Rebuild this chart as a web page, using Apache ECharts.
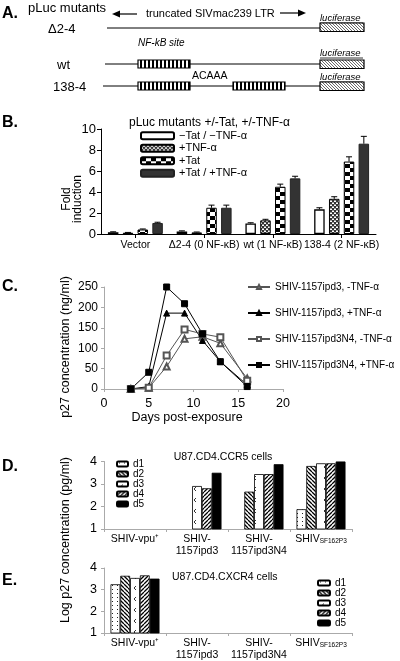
<!DOCTYPE html>
<html>
<head>
<meta charset="utf-8">
<script src="https://cdn.jsdelivr.net/npm/echarts@6/dist/echarts.min.js"></script>
<style>html,body{margin:0;padding:0;background:#fff}#c{width:400px;height:661px}</style>
</head>
<body>
<div id="c"></div>
<script>
// ---------- DATA ----------
// Panel B
const bCategories = ['Vector', 'Δ2-4 (0 NF-κB)', 'wt (1 NF-κB)', '138-4 (2 NF-κB)'];
const bNames = ['−Tat / −TNF-α', '+TNF-α', '+Tat', '+Tat / +TNF-α'];
const bNone = [0.17, 0.25, 1.0, 2.35];
const bTnf = [0.12, 0.15, 1.3, 3.35];
const bTat = [0.43, 2.5, 4.5, 6.9];
const bTatTnf = [1.05, 2.5, 5.3, 8.6];
const bNoneErr = [0.04, 0.05, 0.07, 0.15];
const bTnfErr = [0.03, 0.04, 0.1, 0.2];
const bTatErr = [0.05, 0.25, 0.25, 0.45];
const bTatTnfErr = [0.07, 0.25, 0.2, 0.7];
const bYTicks = [0, 2, 4, 6, 8, 10];
// Panel C
const cDays = [3, 5, 7, 9, 11, 13, 16];
const cNames = ['SHIV-1157ipd3, -TNF-α', 'SHIV-1157ipd3, +TNF-α', 'SHIV-1157ipd3N4, -TNF-α', 'SHIV-1157ipd3N4, +TNF-α'];
const cIpd3Minus = [0, 3, 55, 123, 128, 112, 26];
const cIpd3Plus = [0, 6, 186, 186, 119, 67, 10];
const cN4Minus = [0, 3, 82, 146, 135, 127, 20];
const cN4Plus = [0, 41, 250, 209, 135, 67, 6];
const cXTicks = [0, 5, 10, 15, 20];
const cYTicks = [0, 50, 100, 150, 200, 250];
// Panels D & E
const deCategories = ['SHIV-vpu⁺', 'SHIV-\n1157ipd3', 'SHIV-\n1157ipd3N4', 'SHIV_SF162P3'];
const dayNames = ['d1', 'd2', 'd3', 'd4', 'd5'];
const dD1 = [null, null, null, 1.88];
const dD2 = [null, null, 2.66, 3.8];
const dD3 = [null, 2.91, 3.44, 3.92];
const dD4 = [null, 2.81, 3.44, 3.92];
const dD5 = [null, 3.5, 3.88, 4.0];
const eD1 = [3.25, null, null, null];
const eD2 = [3.64, null, null, null];
const eD3 = [3.54, null, null, null];
const eD4 = [3.66, null, null, null];
const eD5 = [3.51, null, null, null];
const logTicks = [1, 2, 3, 4];

// ---------- STYLE ----------
const FONT = 'Liberation Sans, Arial, Helvetica, sans-serif';
function makePattern(w, h, draw) {
  const c = document.createElement('canvas');
  c.width = w; c.height = h;
  const g = c.getContext('2d');
  g.fillStyle = '#fff'; g.fillRect(0, 0, w, h);
  draw(g, w, h);
  return { image: c, repeat: 'repeat' };
}
function hatch(p, dir, lw, col) {
  return makePattern(p, p, (g) => {
    g.strokeStyle = col || '#000'; g.lineWidth = lw;
    g.beginPath();
    for (let k = -1; k <= 1; k++) {
      if (dir === 'b') { g.moveTo(k * p, 0); g.lineTo(k * p + p, p); }
      else { g.moveTo(k * p, p); g.lineTo(k * p + p, 0); }
    }
    g.stroke();
  });
}
const PAT = {
  tnf: makePattern(4, 4, (g) => { g.fillStyle = '#333'; g.fillRect(0, 0, 2, 2); g.fillRect(2, 2, 2, 2); g.fillStyle = '#999'; g.fillRect(2, 0, 2, 1); g.fillRect(0, 2, 2, 1); }),
  tat: makePattern(10, 8, (g) => { g.fillStyle = '#000'; g.fillRect(0, 0, 5, 4); g.fillRect(5, 4, 5, 4); }),
  d1: makePattern(5, 4, (g) => { g.fillStyle = '#222'; g.fillRect(2, 1, 1, 1); }),
  d2: hatch(4, 'b', 1.3),
  d3: makePattern(10, 11, (g) => { g.strokeStyle = '#333'; g.lineWidth = 1; g.beginPath(); g.moveTo(6, 3); g.lineTo(4, 5); g.lineTo(6, 7); g.stroke(); }),
  d4: hatch(4, 'f', 1.3),
  stripes: makePattern(4, 4, (g) => { g.fillStyle = '#000'; g.fillRect(0, 0, 2, 4); }),
  luc: hatch(3, 'b', 0.8, '#444')
};
const bFills = [
  { color: '#fff', borderColor: '#000', borderWidth: 1.3 },
  { color: PAT.tnf, borderColor: '#000', borderWidth: 1 },
  { color: PAT.tat, borderColor: '#000', borderWidth: 1 },
  { color: '#333', borderColor: '#222', borderWidth: 1 }
];
const dayFills = [
  { color: PAT.d1, borderColor: '#000', borderWidth: 0.8 },
  { color: PAT.d2, borderColor: '#000', borderWidth: 0.8 },
  { color: PAT.d3, borderColor: '#000', borderWidth: 0.8 },
  { color: PAT.d4, borderColor: '#000', borderWidth: 0.8 },
  { color: '#000', borderColor: '#000', borderWidth: 0.8 }
];

// ---------- SERIES ----------
const series = [];
const bVals = [bNone, bTnf, bTat, bTatTnf];
const bErrs = [bNoneErr, bTnfErr, bTatErr, bTatTnfErr];
const B_BW = 10.5, B_GAP = 0.41;
const bStep = B_BW * (1 + B_GAP);
const bTotal = 4 * B_BW + 3 * B_BW * B_GAP;
bVals.forEach((vals, i) => {
  series.push({
    type: 'bar', name: bNames[i], xAxisIndex: 0, yAxisIndex: 0,
    barWidth: B_BW, barGap: (B_GAP * 100) + '%',
    itemStyle: bFills[i], data: vals
  });
});
bVals.forEach((vals, i) => {
  const off = -bTotal / 2 + i * bStep + B_BW / 2;
  series.push({
    type: 'custom', name: 'err' + i, xAxisIndex: 0, yAxisIndex: 0, z: 5,
    data: vals.map((v, k) => [k, v, bErrs[i][k]]),
    encode: { x: 0, y: 1 },
    renderItem: (params, api) => {
      const k = api.value(0), v = api.value(1), e = api.value(2);
      const p0 = api.coord([k, v]);
      const p1 = api.coord([k, v + e]);
      const x = p0[0] + off;
      return {
        type: 'group', children: [
          { type: 'line', shape: { x1: x, y1: p0[1], x2: x, y2: p1[1] }, style: { stroke: '#000', lineWidth: 1 } },
          { type: 'line', shape: { x1: x - 3, y1: p1[1], x2: x + 3, y2: p1[1] }, style: { stroke: '#000', lineWidth: 1 } }
        ]
      };
    }
  });
});
const cVals = [cIpd3Minus, cIpd3Plus, cN4Minus, cN4Plus];
const cSym = ['emptyTriangle', 'triangle', 'emptyRect', 'rect'];
const cCol = ['#555', '#000', '#555', '#000'];
cVals.forEach((vals, i) => {
  series.push({
    type: 'line', name: cNames[i], xAxisIndex: 1, yAxisIndex: 1,
    symbol: cSym[i], symbolSize: 6, showAllSymbol: true,
    lineStyle: { color: cCol[i], width: 1 },
    itemStyle: { color: cCol[i], borderColor: cCol[i], borderWidth: 1 },
    data: cDays.map((d, k) => [d, vals[k]])
  });
});
const dVals = [dD1, dD2, dD3, dD4, dD5];
const eVals = [eD1, eD2, eD3, eD4, eD5];
dVals.forEach((vals, i) => {
  series.push({ type: 'bar', name: dayNames[i], xAxisIndex: 2, yAxisIndex: 2, barWidth: 9.8, barGap: '0%', itemStyle: dayFills[i], data: vals });
});
eVals.forEach((vals, i) => {
  series.push({ type: 'bar', name: dayNames[i], xAxisIndex: 3, yAxisIndex: 3, barWidth: 9.8, barGap: '0%', itemStyle: dayFills[i], data: vals });
});

// ---------- AXES ----------
const grayLine = { show: true, lineStyle: { color: '#aaa', width: 1 } };
const blackLine = { show: true, lineStyle: { color: '#000', width: 1 } };
function deLabel() {
  return {
    interval: 0, color: '#000', fontFamily: FONT, fontSize: 10.5, lineHeight: 12, margin: 4,
    formatter: (v) => v === 'SHIV_SF162P3' ? '{a|SHIV}{s|SF162P3}' : v,
    rich: { a: { fontSize: 10.5, fontFamily: FONT, color: '#000' }, s: { fontSize: 6.5, fontFamily: FONT, color: '#000', padding: [5, 0, 0, 0] } }
  };
}
const xAxis = [
  { gridIndex: 0, type: 'category', data: bCategories, axisLine: blackLine,
    axisTick: { show: true, alignWithLabel: true, length: 4, lineStyle: { color: '#000' } },
    axisLabel: { interval: 0, color: '#000', fontFamily: FONT, fontSize: 10.5, margin: 6 } },
  { gridIndex: 1, type: 'value', min: cXTicks[0], max: cXTicks[cXTicks.length - 1], interval: cXTicks[1] - cXTicks[0],
    axisLine: grayLine, axisTick: { show: true, length: 3, lineStyle: { color: '#aaa' } }, splitLine: { show: false },
    axisLabel: { color: '#000', fontFamily: FONT, fontSize: 12.5, margin: 8 } },
  { gridIndex: 2, type: 'category', data: deCategories, axisLine: grayLine,
    axisTick: { show: true, length: 3, lineStyle: { color: '#aaa' } }, axisLabel: deLabel() },
  { gridIndex: 3, type: 'category', data: deCategories, axisLine: grayLine,
    axisTick: { show: true, length: 3, lineStyle: { color: '#aaa' } }, axisLabel: deLabel() }
];
const yAxis = [
  { gridIndex: 0, type: 'value', min: bYTicks[0], max: bYTicks[bYTicks.length - 1], interval: bYTicks[1] - bYTicks[0],
    axisLine: blackLine, axisTick: { show: true, length: 4, lineStyle: { color: '#000' } }, splitLine: { show: false },
    axisLabel: { color: '#000', fontFamily: FONT, fontSize: 13, margin: 5 } },
  { gridIndex: 1, type: 'value', min: cYTicks[0], max: cYTicks[cYTicks.length - 1], interval: cYTicks[1] - cYTicks[0],
    axisLine: grayLine, axisTick: { show: true, length: 3, lineStyle: { color: '#aaa' } }, splitLine: { show: false },
    axisLabel: { color: '#000', fontFamily: FONT, fontSize: 12, margin: 6 } },
  { gridIndex: 2, type: 'value', min: logTicks[0], max: logTicks[logTicks.length - 1], interval: 1,
    axisLine: grayLine, axisTick: { show: true, length: 3, lineStyle: { color: '#aaa' } }, splitLine: { show: false },
    axisLabel: { color: '#000', fontFamily: FONT, fontSize: 12.5, margin: 7 } },
  { gridIndex: 3, type: 'value', min: logTicks[0], max: logTicks[logTicks.length - 1], interval: 1,
    axisLine: grayLine, axisTick: { show: true, length: 3, lineStyle: { color: '#aaa' } }, splitLine: { show: false },
    axisLabel: { color: '#000', fontFamily: FONT, fontSize: 12.5, margin: 7 } }
];

// ---------- GRAPHICS (schematic + titles) ----------
function txt(x, y, text, o) {
  o = o || {};
  return { type: 'text', x: x, y: y, rotation: o.rot || 0, z: 10,
    style: { text: text, fill: '#000', fontFamily: FONT, fontSize: o.size || 11, fontWeight: o.weight || 'normal',
      fontStyle: o.style || 'normal', align: o.align || 'left', verticalAlign: 'middle',
      textAlign: o.align || 'left', textVerticalAlign: 'middle', lineHeight: o.lh || undefined } };
}
function ln(x1, y1, x2, y2, w, c) {
  return { type: 'line', z: 10, shape: { x1: x1, y1: y1, x2: x2, y2: y2 }, style: { stroke: c || '#000', lineWidth: w || 1 } };
}
function box(x, y, w, h, fill) {
  return { type: 'rect', z: 11, shape: { x: x, y: y, width: w, height: h }, style: { fill: fill, stroke: '#000', lineWidth: 1.2 } };
}
const g = [];
// Panel A
g.push(txt(2, 14, 'A.', { size: 16, weight: 'bold' }));
g.push(txt(28, 8, 'pLuc mutants', { size: 13 }));
g.push(ln(118, 14, 137, 14, 1.2));
g.push({ type: 'polygon', z: 10, shape: { points: [[112, 14], [120, 10.5], [120, 17.5]] }, style: { fill: '#000' } });
g.push(txt(146, 14, 'truncated SIVmac239 LTR', { size: 11 }));
g.push(ln(280, 13, 300, 13, 1.2));
g.push({ type: 'polygon', z: 10, shape: { points: [[306, 13], [298, 9.5], [298, 16.5]] }, style: { fill: '#000' } });
const rows = [{ y: 28, lx: 107, label: 'Δ2-4', labX: 48, boxY: 23, lucY: 18 },
              { y: 64, lx: 105, label: 'wt', labX: 57, boxY: 60, lucY: 53 },
              { y: 86, lx: 103, label: '138-4', labX: 53, boxY: 82, lucY: 77 }];
rows.forEach((r) => {
  g.push(txt(r.labX, r.y + 1, r.label, { size: 13 }));
  g.push(ln(r.lx, r.y, 320, r.y, 1));
  g.push(box(320, r.boxY, 44, 8.5, PAT.luc));
  g.push(txt(320, r.lucY, 'luciferase', { size: 9.5, style: 'italic' }));
  g.push(ln(320, r.lucY + 5, 363, r.lucY + 5, 0.8));
});
g.push(txt(138, 43, 'NF-kB site', { size: 10, style: 'italic' }));
g.push(box(138, 60, 52, 8, PAT.stripes));
g.push(box(138, 82, 52, 8, PAT.stripes));
g.push(box(233, 82, 52, 8, PAT.stripes));
g.push(txt(192, 76, 'ACAAA', { size: 10.5 }));
// Panel labels and axis names
g.push(txt(2, 123, 'B.', { size: 16, weight: 'bold' }));
g.push(txt(2, 287, 'C.', { size: 16, weight: 'bold' }));
g.push(txt(2, 467, 'D.', { size: 16, weight: 'bold' }));
g.push(txt(2, 581, 'E.', { size: 16, weight: 'bold' }));
g.push(txt(129, 123, 'pLuc mutants +/-Tat, +/-TNF-α', { size: 12 }));
g.push(txt(72, 199, 'Fold\ninduction', { size: 12, rot: Math.PI / 2, align: 'center', lh: 11 }));
g.push(txt(66, 347, 'p27 concentration (ng/ml)', { size: 12.5, rot: Math.PI / 2, align: 'center' }));
g.push(txt(187, 418, 'Days post-exposure', { size: 12.5, align: 'center' }));
g.push(txt(66, 540, 'Log p27 concentration (pg/ml)', { size: 12.5, rot: Math.PI / 2, align: 'center' }));
g.push(txt(223, 457, 'U87.CD4.CCR5 cells', { size: 10.5, align: 'center' }));
g.push(txt(172, 577, 'U87.CD4.CXCR4 cells', { size: 10.5 }));

const option = {
  animation: false,
  backgroundColor: '#fff',
  textStyle: { fontFamily: FONT },
  grid: [
    { left: 101, top: 129, width: 275, height: 105 },
    { left: 104, top: 287, width: 179, height: 102 },
    { left: 104, top: 461.5, width: 248, height: 67.5 },
    { left: 104, top: 568, width: 248, height: 68 }
  ],
  xAxis: xAxis,
  yAxis: yAxis,
  legend: [
    { data: bNames, orient: 'vertical', left: 140, top: 129.5, padding: 0, itemGap: 0, itemWidth: 33, itemHeight: 7,
      selectedMode: false, textStyle: { fontFamily: FONT, fontSize: 11, color: '#000', lineHeight: 12.5 } },
    { data: cNames, orient: 'vertical', left: 247, top: 282, padding: 0, itemGap: 16, itemWidth: 22, itemHeight: 5,
      selectedMode: false, textStyle: { fontFamily: FONT, fontSize: 10, color: '#000', lineHeight: 10 } },
    { data: dayNames, orient: 'vertical', left: 116, top: 459, padding: 0, itemGap: 0, itemWidth: 11, itemHeight: 5,
      selectedMode: false, textStyle: { fontFamily: FONT, fontSize: 10, color: '#000', lineHeight: 9 } },
    { data: dayNames, orient: 'vertical', left: 317, top: 578, padding: 0, itemGap: 0, itemWidth: 12, itemHeight: 5,
      selectedMode: false, textStyle: { fontFamily: FONT, fontSize: 10, color: '#000', lineHeight: 8.4 } }
  ],
  graphic: { elements: g },
  series: series
};
const chart = echarts.init(document.getElementById('c'), null, { renderer: 'canvas' });
chart.setOption(option);
</script>
</body>
</html>
